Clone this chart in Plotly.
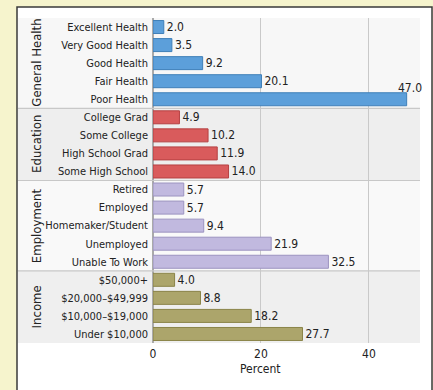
import plotly.graph_objects as go

groups = ["General Health", "Education", "Employment", "Income"]
health_cats = ["Excellent Health", "Very Good Health", "Good Health", "Fair Health", "Poor Health"]
health_vals = [2.0, 3.5, 9.2, 20.1, 47.0]
edu_cats = ["College Grad", "Some College", "High School Grad", "Some High School"]
edu_vals = [4.9, 10.2, 11.9, 14.0]
emp_cats = ["Retired", "Employed", "Homemaker/Student", "Unemployed", "Unable To Work"]
emp_vals = [5.7, 5.7, 9.4, 21.9, 32.5]
inc_cats = ["$50,000+", "$20,000\u2013$49,999", "$10,000\u2013$19,000", "Under $10,000"]
inc_vals = [4.0, 8.8, 18.2, 27.7]
x_ticks = [0, 20, 40]

group_cats = [health_cats, edu_cats, emp_cats, inc_cats]
group_vals = [health_vals, edu_vals, emp_vals, inc_vals]
colors = ["#5c9fda", "#d95b5c", "#c1b9df", "#aca56b"]
edge_colors = ["#3f7fb8", "#b54042", "#9c93c0", "#8a8448"]

all_cats = [c for g in group_cats for c in g]
FONT = "DejaVu Sans Condensed, Liberation Sans Narrow, Arial Narrow, sans-serif"
FS = 12

W, H = 433, 390
L, R, T, B = 153, 15, 18, 47
pw, ph = W - L - R, H - T - B
def px_x(p):
    return (p - L) / pw
def px_y(p):
    return 1 - (p - T) / ph

fig = go.Figure()
shapes = []
annotations = []
# panel
shapes.append(dict(type="rect", xref="paper", yref="paper", x0=px_x(17), x1=px_x(432),
                   y0=px_y(395), y1=px_y(7), fillcolor="white",
                   line=dict(color="#3a3a3a", width=1.5), layer="below"))
band_fill = ["#f7f7f7", "#eeeeee", "#f9f9f9", "#efefef"]
start = 0
for gi, cats in enumerate(group_cats):
    n = len(cats)
    shapes.append(dict(type="rect", xref="paper", yref="y", x0=px_x(18), x1=px_x(420),
                       y0=start - 0.5, y1=start + n - 0.5, fillcolor=band_fill[gi],
                       line=dict(width=0), layer="below"))
    if gi > 0:
        shapes.append(dict(type="line", xref="paper", yref="y", x0=px_x(18), x1=px_x(420),
                           y0=start - 0.5, y1=start - 0.5, line=dict(color="#c8c8c8", width=1.2)))
    annotations.append(dict(text=groups[gi], xref="paper", yref="y", x=px_x(27),
                            y=start + (n - 1) / 2, textangle=-90, showarrow=False,
                            font=dict(family=FONT, size=13, color="#222")))
    vals = group_vals[gi]
    texts = []
    for c, v in zip(cats, vals):
        if v > 40:
            texts.append("")
            annotations.append(dict(text=f"{v:.1f}", x=v, y=c, xref="x", yref="y",
                                    showarrow=False, yshift=11, xanchor="center",
                                    xshift=3,
                                    font=dict(family=FONT, size=FS, color="#222")))
        else:
            texts.append(f"{v:.1f}")
    fig.add_trace(go.Bar(
        x=vals, y=cats, orientation="h", width=0.72,
        marker=dict(color=colors[gi], line=dict(color=edge_colors[gi], width=1)),
        text=texts, textposition="outside", cliponaxis=False, constraintext="none",
        textfont=dict(family=FONT, size=FS, color="#222"),
        showlegend=False, hoverinfo="x+y"))
    start += n

annotations.append(dict(text="Percent", xref="x", yref="paper", x=20, y=px_y(378),
                        showarrow=False, font=dict(family=FONT, size=FS, color="#222")))

fig.update_layout(
    width=W, height=H, margin=dict(l=L, r=R, t=T, b=B),
    paper_bgcolor="#f6f4cd", plot_bgcolor="rgba(0,0,0,0)",
    bargap=0.28, shapes=shapes, annotations=annotations,
    font=dict(family=FONT, size=FS, color="#222"),
    xaxis=dict(range=[0, 49.1], tickvals=x_ticks, showgrid=True, gridcolor="#c9c9c9",
               gridwidth=1, zeroline=True, zerolinecolor="#aaaaaa", zerolinewidth=1.5,
               ticks="", showline=False, tickfont=dict(family=FONT, size=FS, color="#222"),
               ticklabelstandoff=2),
    yaxis=dict(categoryorder="array", categoryarray=all_cats, range=[len(all_cats) - 0.5, -0.5],
               showgrid=False, zeroline=False, ticks="", ticklabelstandoff=4,
               tickfont=dict(family=FONT, size=11, color="#222")),
)
fig.write_html("out.html", post_script="document.body.style.margin='0';",
               config={"displayModeBar": False})
